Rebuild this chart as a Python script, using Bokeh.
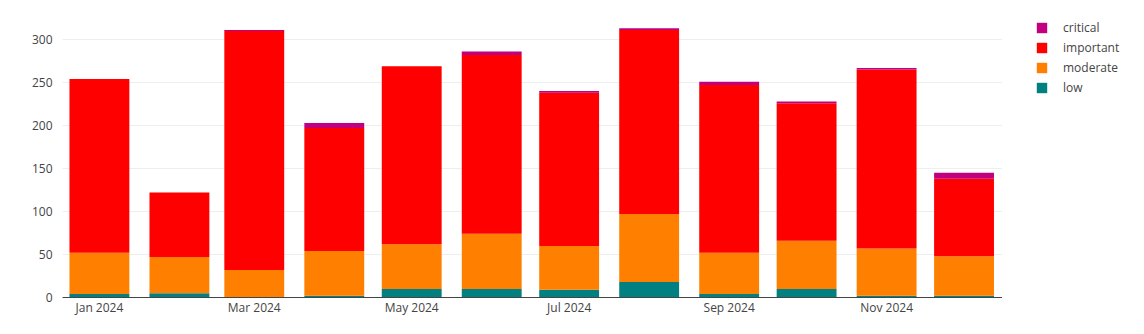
from datetime import datetime, timedelta
from bokeh.plotting import figure
from bokeh.layouts import row
from bokeh.models import (ColumnDataSource, Range1d, Legend, LegendItem,
                          MonthsTicker, DatetimeTickFormatter, FixedTicker)
from bokeh.embed import file_html
from bokeh.resources import INLINE

months = ["2024-01", "2024-02", "2024-03", "2024-04", "2024-05", "2024-06",
          "2024-07", "2024-08", "2024-09", "2024-10", "2024-11", "2024-12"]
low = [4, 5, 0, 2, 10, 10, 9, 18, 4, 10, 2, 2]
moderate = [48, 42, 32, 52, 52, 64, 51, 79, 48, 56, 55, 46]
important = [202, 75, 278, 143, 207, 208, 178, 214, 195, 160, 208, 90]
critical = [0, 0, 1, 6, 0, 4, 2, 2, 4, 2, 2, 7]
y_ticks = [0, 50, 100, 150, 200, 250, 300]

series = ["low", "moderate", "important", "critical"]
colors = ["#008080", "#ff8000", "#ff0000", "#c0007f"]

dates = [datetime.strptime(m + "-01", "%Y-%m-%d") for m in months]
src = ColumnDataSource(dict(x=dates, low=low, moderate=moderate,
                            important=important, critical=critical))

x_start = dates[0] - timedelta(days=14.3)
x_end = dates[-1] + timedelta(days=14.9)

p = figure(width=1002, height=334, x_axis_type="datetime",
           x_range=Range1d(x_start, x_end), y_range=Range1d(0, 325.6),
           output_backend="svg", toolbar_location=None,
           min_border_left=62, min_border_right=0,
           min_border_top=17, min_border_bottom=37)
p.outline_line_color = None
p.background_fill_color = "white"

bar_w = 23.2 * 86400000
p.vbar_stack(series, x="x", width=bar_w, color=colors,
             line_color=None, source=src)

p.xgrid.grid_line_color = None
p.ygrid.grid_line_color = "#eeeeee"
p.ygrid.grid_line_width = 1

p.yaxis.ticker = FixedTicker(ticks=y_ticks)
p.yaxis.axis_line_color = None
p.yaxis.major_tick_line_color = None
p.yaxis.minor_tick_line_color = None
p.yaxis.major_label_standoff = 4
p.yaxis.major_label_text_font = "Open Sans"
p.yaxis.major_label_text_font_size = "12px"
p.yaxis.major_label_text_color = "#444444"

p.xaxis.ticker = MonthsTicker(months=[0, 2, 4, 6, 8, 10])
p.xaxis.formatter = DatetimeTickFormatter(months="%b %Y", days="%b %Y",
                                          years="%b %Y")
p.xaxis.axis_line_color = "#444444"
p.xaxis.axis_line_width = 1
p.xaxis.major_tick_line_color = None
p.xaxis.minor_tick_line_color = None
p.xaxis.major_label_standoff = -5
p.xaxis.major_label_text_font = "Open Sans"
p.xaxis.major_label_text_font_size = "12px"
p.xaxis.major_label_text_color = "#444444"

# legend panel
lg = figure(width=142, height=334, output_backend="svg", toolbar_location=None,
            x_axis_location=None, y_axis_location=None,
            x_range=Range1d(0, 1), y_range=Range1d(0, 1),
            min_border_left=33, min_border_right=0,
            min_border_top=17, min_border_bottom=37)
lg.outline_line_color = None
lg.xgrid.grid_line_color = None
lg.ygrid.grid_line_color = None
hidden = ColumnDataSource(dict(x=[50], top=[1]))
dummies = [lg.vbar(x="x", top="top", width=0.1, color=c, line_color=None,
                   source=hidden) for c in colors]

items = [LegendItem(label=s, renderers=[r]) for s, r in zip(series, dummies)]
items = items[::-1]
legend = Legend(items=items, location="top_left", padding=0, margin=0,
                spacing=0, label_height=20, glyph_height=13, glyph_width=13,
                label_standoff=15, border_line_color=None,
                background_fill_alpha=0,
                label_text_font="Open Sans", label_text_font_size="12px",
                label_text_color="#444444")
lg.add_layout(legend, "center")

layout = row(p, lg)
open("out.html", "w").write(file_html(layout, INLINE))
